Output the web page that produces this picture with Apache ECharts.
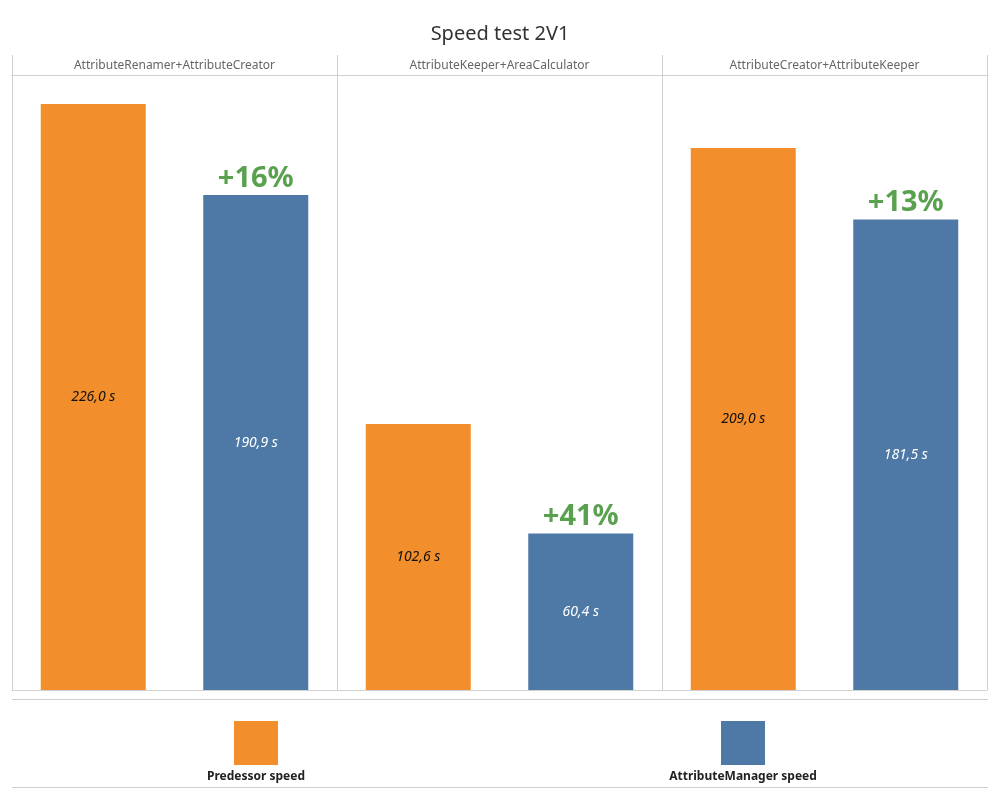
<!DOCTYPE html>
<html>
<head>
<meta charset="utf-8">
<script src="https://cdn.jsdelivr.net/npm/echarts@6/dist/echarts.min.js"></script>
<style>html,body{margin:0;padding:0;background:#fff;}#chart{width:1000px;height:800px;}</style>
</head>
<body>
<div id="chart"></div>
<script>
const panels = ['AttributeRenamer+AttributeCreator', 'AttributeKeeper+AreaCalculator', 'AttributeCreator+AttributeKeeper'];
const slots = ['p1-old', 'p1-new', 'p2-old', 'p2-new', 'p3-old', 'p3-new'];
const predecessorSpeed = [226.0, '-', 102.6, '-', 209.0, '-'];
const managerSpeed = ['-', 190.9, '-', 60.4, '-', 181.5];
const gainLabels = ['', '+16%', '', '+41%', '', '+13%'];
const seriesNames = ['Predessor speed', 'AttributeManager speed'];

const FONT = '"Noto Sans", "Open Sans", sans-serif';
const ORANGE = '#f28e2b', BLUE = '#4e79a7', GREEN = '#59a14f', LINE = '#d0d0d0';
const fmt = v => v.value.toFixed(1).replace('.', ',') + ' s';

const chart = echarts.init(document.getElementById('chart'));
chart.setOption({
  animation: false,
  textStyle: { fontFamily: FONT },
  title: {
    text: 'Speed test 2V1', left: 'center', top: 19,
    textStyle: { fontFamily: FONT, fontSize: 20, fontWeight: 'normal', color: '#333' }
  },
  grid: [
    { left: 12, right: 13, top: 55, height: 20 },
    { left: 12, right: 13, top: 75, bottom: 110 }
  ],
  xAxis: [
    { gridIndex: 0, type: 'category', data: panels, position: 'bottom',
      axisLine: { show: true, lineStyle: { color: LINE } }, axisTick: { show: false },
      axisLabel: { inside: true, margin: 3, fontSize: 12, color: '#666', fontFamily: FONT },
      splitLine: { show: true, lineStyle: { color: LINE } } },
    { gridIndex: 1, type: 'category', data: slots, show: false },
    { gridIndex: 1, type: 'category', data: panels, position: 'bottom',
      axisLine: { show: true, lineStyle: { color: LINE } }, axisTick: { show: false },
      axisLabel: { show: false },
      splitLine: { show: true, lineStyle: { color: LINE } } }
  ],
  yAxis: [
    { gridIndex: 0, type: 'value', show: false, min: 0, max: 1 },
    { gridIndex: 1, type: 'value', show: false, min: 0, max: 237.2 }
  ],
  legend: [
    { data: [seriesNames[0]], left: 234, top: 721, padding: 0, itemWidth: 44, itemHeight: 44,
      icon: 'rect', formatter: () => '', selectedMode: false },
    { data: [seriesNames[1]], left: 721, top: 721, padding: 0, itemWidth: 44, itemHeight: 44,
      icon: 'rect', formatter: () => '', selectedMode: false }
  ],
  graphic: [
    { type: 'line', shape: { x1: 12, y1: 699.5, x2: 988, y2: 699.5 }, style: { stroke: LINE, lineWidth: 1 } },
    { type: 'line', shape: { x1: 12, y1: 787.5, x2: 988, y2: 787.5 }, style: { stroke: LINE, lineWidth: 1 } },
    { type: 'text', x: 256, y: 777, style: { text: seriesNames[0], fontFamily: FONT, fontSize: 12, fontWeight: 'bold', fill: '#222', align: 'center', verticalAlign: 'middle' } },
    { type: 'text', x: 743, y: 777, style: { text: seriesNames[1], fontFamily: FONT, fontSize: 12, fontWeight: 'bold', fill: '#222', align: 'center', verticalAlign: 'middle' } }
  ],
  series: [
    { name: seriesNames[0], type: 'bar', xAxisIndex: 1, yAxisIndex: 1, data: predecessorSpeed,
      barWidth: 105, barGap: '-100%', itemStyle: { color: ORANGE },
      label: { show: true, position: 'inside', formatter: fmt, fontStyle: 'italic', fontSize: 14, color: '#111', fontFamily: FONT } },
    { name: seriesNames[1], type: 'bar', xAxisIndex: 1, yAxisIndex: 1, data: managerSpeed,
      barWidth: 105, barGap: '-100%', itemStyle: { color: BLUE },
      label: { show: true, position: 'inside', formatter: fmt, fontStyle: 'italic', fontSize: 14, color: '#fff', fontFamily: FONT } },
    { name: 'gain', type: 'bar', xAxisIndex: 1, yAxisIndex: 1, data: managerSpeed,
      barWidth: 105, barGap: '-100%', itemStyle: { color: 'rgba(0,0,0,0)' }, silent: true,
      label: { show: true, position: 'top', distance: 2, formatter: p => gainLabels[p.dataIndex],
        fontSize: 29, fontWeight: 'bold', color: GREEN, fontFamily: FONT } }
  ]
});
</script>
</body>
</html>
